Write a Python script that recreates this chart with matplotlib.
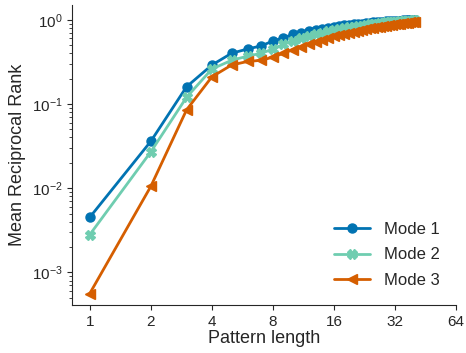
import matplotlib
matplotlib.use("Agg")
import matplotlib.pyplot as plt
import seaborn as sns
from matplotlib.ticker import FixedLocator, FixedFormatter, NullLocator

pattern_len = list(range(1, 41))
mode1 = [0.0045, 0.036, 0.16, 0.29, 0.40, 0.45, 0.49, 0.56, 0.61, 0.67, 0.70, 0.73, 0.76, 0.78,
         0.80, 0.82, 0.84, 0.86, 0.87, 0.88, 0.89, 0.90, 0.91, 0.92, 0.93, 0.94, 0.94, 0.95,
         0.96, 0.96, 0.97, 0.97, 0.98, 0.98, 0.99, 0.99, 0.99, 1.0, 1.0, 1.0]
mode2 = [0.0028, 0.027, 0.12, 0.26, 0.33, 0.37, 0.40, 0.45, 0.51, 0.56, 0.60, 0.64, 0.67, 0.70,
         0.73, 0.75, 0.77, 0.79, 0.81, 0.83, 0.84, 0.85, 0.87, 0.88, 0.89, 0.90, 0.91, 0.92,
         0.93, 0.93, 0.94, 0.95, 0.95, 0.96, 0.97, 0.97, 0.98, 0.98, 0.99, 0.99]
mode3 = [0.00056, 0.0105, 0.085, 0.21, 0.29, 0.32, 0.33, 0.36, 0.40, 0.44, 0.48, 0.52, 0.55, 0.58,
         0.61, 0.64, 0.66, 0.68, 0.70, 0.72, 0.74, 0.76, 0.77, 0.79, 0.80, 0.82, 0.83, 0.84,
         0.85, 0.86, 0.87, 0.88, 0.89, 0.90, 0.91, 0.92, 0.92, 0.93, 0.94, 0.95]
xticks = [1, 2, 4, 8, 16, 32, 64]

sns.set_style("ticks")
plt.rcParams['font.family'] = ['Liberation Sans', 'DejaVu Sans']

fig = plt.figure(figsize=(4.66, 3.53), dpi=100)
ax = fig.add_axes([0.155, 0.136, 0.824, 0.85])

ax.plot(pattern_len, mode1, '-o', color='#0173b2', lw=2, ms=6.5, label='Mode 1')
ax.plot(pattern_len, mode2, '-X', color='#6fcdb0', lw=2, ms=6.5, label='Mode 2')
ax.plot(pattern_len, mode3, '-<', color='#d55e00', lw=2, ms=6.5, label='Mode 3')

ax.set_xscale('log', base=2)
ax.set_yscale('log')
ax.set_xlim(0.82, 64)
ax.set_ylim(4.1e-4, 1.5)
ax.xaxis.set_major_locator(FixedLocator(xticks))
ax.xaxis.set_major_formatter(FixedFormatter([str(t) for t in xticks]))
ax.xaxis.set_minor_locator(NullLocator())
ax.tick_params(labelsize=11)
ax.set_xlabel('Pattern length', fontsize=13, labelpad=1)
ax.set_ylabel('Mean Reciprocal Rank', fontsize=13)
sns.despine(ax=ax)

ax.legend(loc='lower right', frameon=False, fontsize=12, handlelength=2.2,
          labelspacing=0.65, borderaxespad=0.6)

fig.savefig('out.png')
